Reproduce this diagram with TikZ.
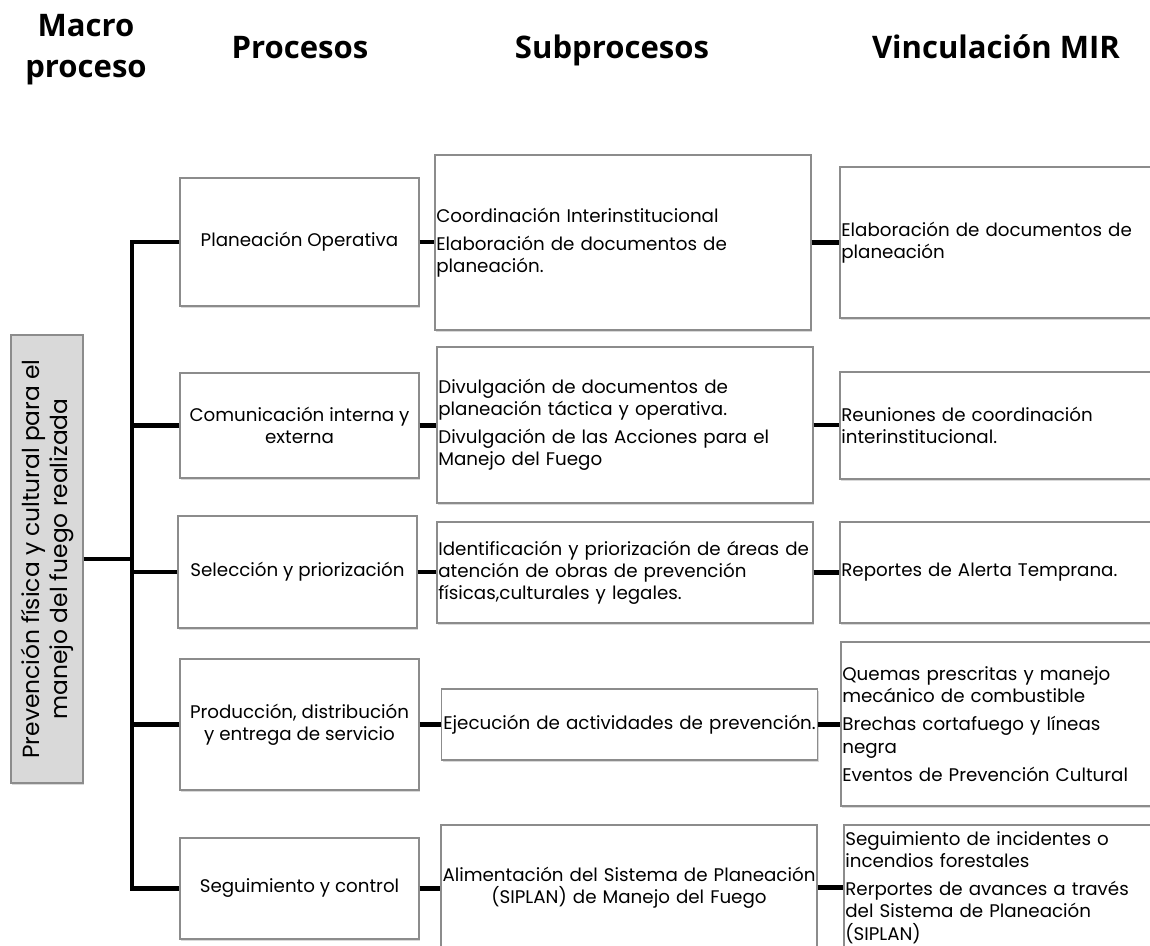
\documentclass[tikz,border=0pt]{standalone}
\usepackage{fontspec}
\setmainfont{Poppins}
\newfontfamily\headfont{Open Sans}
\usetikzlibrary{shadows}
\definecolor{boxgray}{HTML}{8C8C8C}
\definecolor{macrofill}{HTML}{D9D9D9}

\begin{document}
\begin{tikzpicture}[x=0.75pt,y=-0.75pt]
\tikzstyle{every node}=[inner sep=2pt, font=\fontsize{13.7}{16.6}\selectfont]
\tikzstyle{head}=[font=\headfont\bfseries\fontsize{23.3}{30.75}\selectfont, align=center]
\tikzstyle{box}=[draw=boxgray, line width=0.8pt, fill=white, drop shadow={opacity=0.3, shadow xshift=1pt, shadow yshift=-1.5pt}]
\tikzstyle{proc}=[box, minimum width=179.25pt, align=center]
\tikzstyle{sub}=[box, inner xsep=1pt, text width=280pt, align=left]
\tikzstyle{mir}=[box, inner xsep=1pt, text width=238pt, align=left]
\tikzstyle{conn}=[line width=3.6pt]
\useasboundingbox (0,0) rectangle (1150,946);
\clip (0,0) rectangle (1150,946);
\draw (86,50) node (h1) [head] {Macro\\proceso};
\draw (300,58) node (h2) [head, anchor=base] {Procesos};
\draw (612,58) node (h3) [head, anchor=base] {Subprocesos};
\draw (996,58) node (h4) [head, anchor=base] {Vinculación MIR};
\draw (47,559) node (macro) [box, fill=macrofill, rotate=90, minimum width=336pt, minimum height=54pt, align=center, font=\fontsize{17.5}{21}\selectfont] {Prevención física y cultural para el\\manejo del fuego realizada};
\coordinate (trunk) at (132,559);
\draw (299.5,242) node (p1) [proc, minimum height=96pt] {Planeación Operativa};
\draw (299.5,425.5) node (p2) [proc, minimum height=78.75pt] {Comunicación interna y\\externa};
\draw (297.5,572) node (p3) [proc, minimum height=84pt] {Selección y priorización};
\draw (299.5,724.5) node (p4) [proc, minimum height=98.25pt] {Producción, distribución\\y entrega de servicio};
\draw (299.5,888.5) node (p5) [proc, minimum height=75.75pt] {Seguimiento y control};
\draw (623,242.5) node (s1) [sub, minimum height=131.25pt] {Coordinación Interinstitucional\\[4.5pt]Elaboración de documentos de\\planeación.};
\draw (625,425) node (s2) [sub, minimum height=117pt] {Divulgación de documentos de\\planeación táctica y operativa.\\[4.5pt]Divulgación de las Acciones para el\\Manejo del Fuego};
\draw (625,572.5) node (s3) [sub, minimum height=75.75pt] {Identificación y priorización de áreas de\\atención de obras de prevención\\físicas,culturales y legales.};
\draw (629.5,724.5) node (s4) [sub, minimum height=53.25pt, align=center] {Ejecución de actividades de prevención.};
\draw (629,887.5) node (s5) [sub, minimum height=93.75pt, align=center] {Alimentación del Sistema de Planeación\\(SIPLAN) de Manejo del Fuego};
\draw (1000,242.5) node (m1) [mir, minimum height=113.25pt] {Elaboración de documentos de\\planeación};
\draw (1000,425.5) node (m2) [mir, minimum height=80.25pt] {Reuniones de coordinación\\interinstitucional.};
\draw (1000,572.5) node (m3) [mir, minimum height=75.75pt] {Reportes de Alerta Temprana.};
\draw (1001,724) node (m4) [mir, minimum height=123pt] {Quemas prescritas y manejo\\mecánico de combustible\\[4.5pt]Brechas cortafuego y líneas\\negra\\[4.5pt]Eventos de Prevención Cultural};
\draw (1004,887.5) node (m5) [mir, minimum height=93.75pt] {Seguimiento de incidentes o\\incendios forestales\\[4.5pt]Rerportes de avances a través\\del Sistema de Planeación\\(SIPLAN)};
\draw[conn] (p1.west) -- (p1.west -| trunk) -- (p5.west -| trunk) -- (p5.west);
\draw[conn] (p2.west) -- (p2.west -| trunk);
\draw[conn] (p3.west) -- (p3.west -| trunk);
\draw[conn] (p4.west) -- (p4.west -| trunk);
\draw[conn] (macro.south) -- (macro.south -| trunk);
\draw[conn] (p1.east) -- (p1.east -| s1.west);
\draw[conn] (p2.east) -- (p2.east -| s2.west);
\draw[conn] (p3.east) -- (p3.east -| s3.west);
\draw[conn] (p4.east) -- (p4.east -| s4.west);
\draw[conn] (p5.east) -- (p5.east -| s5.west);
\draw[conn] (s1.east) -- (s1.east -| m1.west);
\draw[conn] (s2.east) -- (s2.east -| m2.west);
\draw[conn] (s3.east) -- (s3.east -| m3.west);
\draw[conn] (s4.east) -- (s4.east -| m4.west);
\draw[conn] (s5.east) -- (s5.east -| m5.west);
\end{tikzpicture}
\end{document}
